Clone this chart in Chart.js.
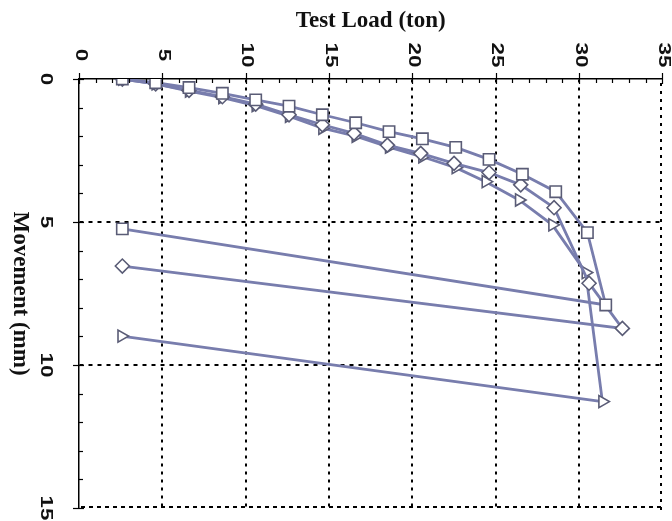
<!DOCTYPE html>
<html>
<head>
<meta charset="utf-8">
<script src="https://cdn.jsdelivr.net/npm/chart.js@4.4.1/dist/chart.umd.min.js"></script>
<style>
html,body{margin:0;padding:0;background:#fff;}
#wrap{width:672px;height:521px;}
</style>
</head>
<body>
<div id="wrap"><canvas id="c" width="672" height="521"></canvas></div>
<script>
// Data (load in ton, movement in mm)
const loadSq = [2.6,4.6,6.6,8.6,10.6,12.6,14.6,16.6,18.6,20.6,22.6,24.6,26.6,28.6,30.5,31.6,2.6];
const movSq  = [0,0.13,0.3,0.5,0.73,0.95,1.25,1.53,1.84,2.09,2.39,2.81,3.33,3.94,5.37,7.9,5.24];
const loadDi = [2.6,4.6,6.6,8.6,10.6,12.6,14.6,16.5,18.5,20.5,22.5,24.6,26.5,28.5,30.6,32.6,2.6];
const movDi  = [0,0.17,0.4,0.62,0.88,1.25,1.6,1.9,2.31,2.6,2.95,3.27,3.7,4.5,7.14,8.72,6.54];
const loadTr = [2.6,4.6,6.6,8.6,10.6,12.6,14.6,16.6,18.6,20.6,22.6,24.4,26.4,28.4,30.4,31.4,2.55];
const movTr  = [0,0.17,0.42,0.65,0.93,1.3,1.72,2.0,2.38,2.72,3.1,3.59,4.23,5.1,6.77,11.28,8.99];

const xTickLabels = ['0','5','10','15','20','25','30','35'];
const yTickLabels = ['0','5','10','15'];
const xTitle = 'Test Load (ton)';
const yTitle = 'Movement (mm)';

const toPts = (xs, ys) => xs.map((x, i) => ({x: x, y: ys[i]}));

const LINE = '#787dad';
const MARK = '#5a5c76';

const decor = {
  id: 'decor',
  afterDraw(chart) {
    const ctx = chart.ctx;
    const xs = chart.scales.x, ys = chart.scales.y;
    const ca = chart.chartArea;
    ctx.save();
    ctx.fillStyle = '#000';
    // dotted right frame (at 35 t) and bottom frame (at 15 mm)
    const rx = Math.round(xs.getPixelForValue(35));
    for (let y = ca.top + 4; y < ca.bottom; y += 8) ctx.fillRect(rx - 2, y, 2, 3);
    const by = Math.round(ys.getPixelForValue(15));
    for (let x = ca.left + 2; x < ca.right; x += 8) ctx.fillRect(x, by - 2, 4, 2);
    ctx.strokeStyle = '#000';
    ctx.lineWidth = 1.2;
    // minor/major ticks on top axis
    for (let v = 0; v <= 35; v++) {
      const px = Math.round(xs.getPixelForValue(v)) + 0.5;
      ctx.beginPath();
      if (v % 5 === 0) { ctx.moveTo(px, ca.top - 6); ctx.lineTo(px, ca.top + 5); }
      else { ctx.moveTo(px, ca.top); ctx.lineTo(px, ca.top + 4); }
      ctx.stroke();
    }
    // ticks on left axis
    for (let v = 0; v <= 15; v++) {
      const py = Math.round(ys.getPixelForValue(v)) + 0.5;
      ctx.beginPath();
      if (v % 5 === 0) { ctx.moveTo(ca.left - 6, py); ctx.lineTo(ca.left + 5, py); }
      else { ctx.moveTo(ca.left, py); ctx.lineTo(ca.left + 4, py); }
      ctx.stroke();
    }
    ctx.fillStyle = '#111';
    // x tick labels, rotated clockwise
    ctx.font = 'bold 16px "Liberation Sans", Arial, sans-serif';
    ctx.textAlign = 'center';
    ctx.textBaseline = 'middle';
    xTickLabels.forEach(t => {
      const px = xs.getPixelForValue(Number(t));
      ctx.save();
      ctx.translate(px + 1, 55);
      ctx.rotate(Math.PI / 2);
      ctx.scale(1.4, 1);
      ctx.fillText(t, 0, 0);
      ctx.restore();
    });
    // y tick labels, rotated clockwise
    yTickLabels.forEach(t => {
      const py = ys.getPixelForValue(Number(t));
      ctx.save();
      ctx.translate(45, py);
      ctx.rotate(Math.PI / 2);
      ctx.scale(1.4, 1);
      ctx.fillText(t, 0, 0);
      ctx.restore();
    });
    // titles
    ctx.font = 'bold 23px "Liberation Serif", "Times New Roman", serif';
    ctx.fillText(xTitle, (ca.left + ca.right) / 2, 21);
    ctx.save();
    ctx.translate(20, (ca.top + ca.bottom) / 2);
    ctx.rotate(Math.PI / 2);
    ctx.fillText(yTitle, 0, 0);
    ctx.restore();
    ctx.restore();
  }
};

const common = {
  showLine: true,
  borderColor: LINE,
  borderWidth: 2.8,
  pointBackgroundColor: '#fff',
  pointBorderColor: MARK,
  pointBorderWidth: 1.6,
  tension: 0
};

new Chart(document.getElementById('c'), {
  type: 'scatter',
  data: {
    datasets: [
      Object.assign({label: 'S1', data: toPts(loadSq, movSq), pointStyle: 'rect', pointRadius: 8}, common),
      Object.assign({label: 'S2', data: toPts(loadDi, movDi), pointStyle: 'rectRot', pointRadius: 7}, common),
      Object.assign({label: 'S3', data: toPts(loadTr, movTr), pointStyle: 'triangle', pointRotation: 90, pointRadius: 7}, common)
    ]
  },
  options: {
    responsive: false,
    animation: false,
    layout: {padding: {left: 79, top: 79, right: 9, bottom: 13}},
    plugins: {legend: {display: false}, tooltip: {enabled: false}},
    scales: {
      x: {
        type: 'linear', position: 'top', min: 0, max: 35,
        ticks: {display: false, stepSize: 5},
        grid: {color: ctx => (ctx.tick && (ctx.tick.value === 0 || ctx.tick.value === 35)) ? 'rgba(0,0,0,0)' : '#000', lineWidth: 2, drawTicks: false},
        border: {display: true, color: '#000', width: 1.5, dash: [3, 5]},
        afterFit: s => { s.height = 0; }
      },
      y: {
        type: 'linear', reverse: true, min: 0, max: 15,
        ticks: {display: false, stepSize: 5},
        grid: {color: ctx => (ctx.tick && (ctx.tick.value === 0 || ctx.tick.value === 15)) ? 'rgba(0,0,0,0)' : '#000', lineWidth: 2, drawTicks: false},
        border: {display: true, color: '#000', width: 1.5, dash: [4, 5]},
        afterFit: s => { s.width = 0; }
      }
    }
  },
  plugins: [decor]
});
</script>
</body>
</html>
